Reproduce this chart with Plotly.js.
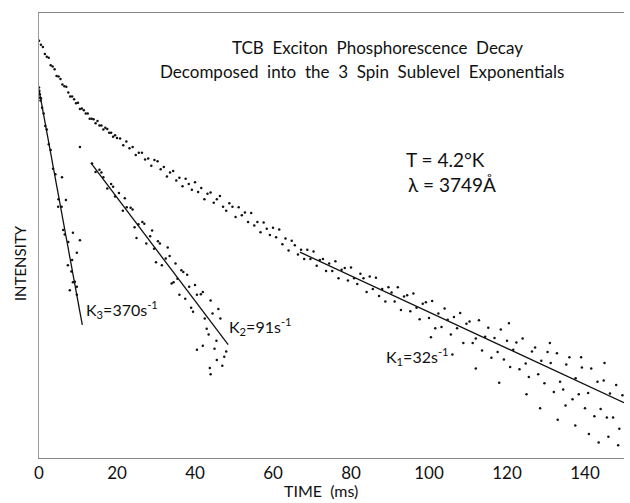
<!DOCTYPE html>
<html><head><meta charset="utf-8">
<script src="https://cdn.plot.ly/plotly-3.0.1.min.js"></script>
<style>html,body{margin:0;padding:0;background:#fff}#chart{width:630px;height:503px}</style>
</head><body><div id="chart"></div>
<script>
// Total phosphorescence decay (time in ms, natural log of intensity, arbitrary units)
const mainTime = [
0,0.5,1,1.5,2,2.5,3,3.5,4,4.5,5,5.5,6,6.5,7,7.5,8,8.5,9,9.5,10,10.5,11,11.5,12,12.5,13,13.5,14,14.5,15,15.5,16,16.5,17,17.5,18,18.5,19,19.5,20,
20.8,21.6,22.4,23.2,24.0,24.8,25.6,26.4,27.2,28.0,28.8,29.6,30.4,31.2,32.0,32.8,33.6,34.4,35.2,36.0,36.8,37.6,38.4,39.2,40.0,40.8,41.6,42.4,43.2,44.0,44.8,45.6,46.4,47.2,48.0,48.8,49.6,50.4,51.2,52.0,52.8,53.6,54.4,55.2,56.0,56.8,57.6,58.4,59.2,60.0,60.8,61.6,62.4,63.2,64.0,64.8,65.6,66.4,
67.2,68.0,68.8,69.6,70.4,71.2,72.0,72.8,73.6,74.4,75.2,76.0,76.8,77.6,78.4,79.2,80.0,80.8,81.6,82.4,83.2,84.0,84.8,85.6,86.4,87.2,88.0,88.8,89.6,90.4,91.2,92.0,92.8,93.6,94.4,95.2,96.0,96.8,97.6,98.4,99.2,100.0,100.8,101.6,102.4,103.2,104.0,104.8,105.6,106.4,107.2,108.0,108.8,109.6,110.4,111.2,112.0,112.8,113.6,114.4,115.2,116.0,116.8,117.6,118.4,119.2,120.0,120.8,121.6,122.4,123.2,124.0,124.8,125.6,126.4,127.2,128.0,128.8,129.6,130.4,131.2,132.0,132.8,133.6,134.4,135.2,136.0,136.8,137.6,138.4,139.2,140.0,140.8,141.6,142.4,143.2,144.0,144.8,145.6,146.4,147.2,148.0,148.8,149.6,
100.5,106,112,118,125,128.5,133,135,137.5,141,143.5,146,148.5,120.5,131,139,145
];
const mainLnI = [
7.52,7.45,7.41,7.29,7.24,7.22,7.09,7.07,7.02,6.90,6.89,6.85,6.75,6.72,6.71,6.61,6.54,6.54,6.49,6.42,6.43,6.32,6.33,6.30,6.24,6.24,6.15,6.15,6.14,6.07,6.11,6.03,6.03,5.96,5.99,5.97,5.90,5.90,5.83,5.86,5.81,
5.80,5.68,5.75,5.63,5.65,5.51,5.55,5.55,5.43,5.45,5.32,5.42,5.40,5.26,5.30,5.13,5.20,5.23,5.06,5.11,4.96,5.09,5.00,4.90,5.03,4.86,4.93,4.73,4.83,4.85,4.67,4.73,4.79,4.60,4.53,4.66,4.60,4.42,4.59,4.45,4.50,4.33,4.49,4.27,4.33,4.15,4.32,4.21,4.10,4.23,4.06,4.20,3.94,4.04,3.83,4.00,3.92,3.76,
3.84,3.68,3.84,3.68,3.81,3.56,3.66,3.68,3.47,3.60,3.47,3.64,3.34,3.49,3.52,3.30,3.53,3.34,3.24,3.42,3.34,3.10,3.37,3.15,3.35,3.03,3.15,2.93,3.18,3.09,2.93,3.18,2.78,3.02,3.04,2.76,3.07,2.82,2.62,2.89,2.92,2.64,2.94,2.46,2.72,2.48,2.81,2.61,2.35,2.66,2.46,2.73,2.20,2.54,2.58,2.20,2.28,2.60,2.07,2.31,2.47,1.94,2.29,2.04,2.44,1.91,2.24,1.78,2.08,2.21,1.74,2.28,1.84,1.60,2.05,2.12,1.65,1.89,1.49,2.04,1.85,1.34,2.02,1.52,1.38,1.82,1.95,1.21,1.58,1.30,1.77,1.05,1.32,1.75,0.91,1.52,1.04,1.54,0.89,1.31,0.89,1.46,0.69,1.28,
2.30,2.00,1.75,1.50,1.30,1.05,0.85,1.10,0.75,0.60,0.45,0.55,0.40,2.55,2.20,1.95,1.85
];

// Residual points of the fastest sublevel (K3)
const k3PtsTime = [0.0,0.1,0.2,0.3,0.4,0.5,0.8,1.2,1.6,2.0,2.5,3.0,3.6,4.2,5.0,5.8,6.6,7.5,8.3,9.2,8.7,9.7,10.5,9.7,7.9,10.5,6.2,4.9,8.5,5.9,6.9,7.4,9.7,8.7];
const k3PtsLnI = [6.70,6.64,6.58,6.52,6.47,6.51,6.34,6.24,6.02,5.96,5.70,5.60,5.27,5.17,4.73,4.60,4.11,3.98,3.46,3.28,4.14,3.79,4.01,3.19,3.13,5.65,4.19,4.60,3.66,5.12,4.72,3.57,3.05,3.27];

// Residual points of the middle sublevel (K2)
const k2PtsTime = [13.6,14.5,15.5,16.5,17.5,18.5,19.5,20.5,21.5,22.5,23.5,24.5,25.5,26.5,27.5,28.5,29.5,30.5,31.5,32.5,33.5,34.5,35.5,36.5,37.5,38.5,39.5,40.5,41.5,42.5,43.5,44.5,45.5,46.5,47.5,
16,19,22,24,27,29,31,33,35,37,38,40,42,44,46,
25,30,34,39,43,45,47,44,42,48,36,40.5,43.8,45.6];
const k2PtsLnI = [5.36,5.21,5.25,5.12,4.92,5.00,4.78,4.84,4.53,4.59,4.58,4.24,4.29,4.33,3.95,4.08,3.86,3.99,3.57,3.69,3.73,3.27,3.33,3.48,2.98,3.19,2.75,3.05,3.06,2.63,2.35,2.72,2.24,2.63,1.96,
5.20,4.95,4.75,4.55,4.30,4.18,3.95,3.88,3.60,3.45,3.40,3.22,3.10,2.95,2.80,
4.05,3.62,3.25,2.82,2.45,2.10,1.80,1.65,2.15,2.05,3.05,2.08,1.76,1.90];

// Fitted single exponentials (straight lines on the log scale)
const k1FitTime = [66.9, 150];
const k1FitLnI = [3.80, 1.15];
const k2FitTime = [13.3, 48.5];
const k2FitLnI = [5.37, 2.17];
const k3FitTime = [0.0, 11.1];
const k3FitLnI = [6.66, 2.52];

const xTicks = [0, 20, 40, 60, 80, 100, 120, 140];
const xTickText = ['0', '20', '40', '60', '80', '100', '120', '140'];

const FONT = 'Lato, "Open Sans", "DejaVu Sans", sans-serif';
const dot = {color: '#111', size: 2.5};
const fitLine = {color: '#111', width: 1.3};

const traces = [
  {x: mainTime, y: mainLnI, type: 'scatter', mode: 'markers', marker: dot, hoverinfo: 'skip'},
  {x: k3PtsTime, y: k3PtsLnI, type: 'scatter', mode: 'markers', marker: dot, hoverinfo: 'skip'},
  {x: k2PtsTime, y: k2PtsLnI, type: 'scatter', mode: 'markers', marker: dot, hoverinfo: 'skip'},
  {x: k1FitTime, y: k1FitLnI, type: 'scatter', mode: 'lines', line: fitLine},
  {x: k2FitTime, y: k2FitLnI, type: 'scatter', mode: 'lines', line: fitLine},
  {x: k3FitTime, y: k3FitLnI, type: 'scatter', mode: 'lines', line: fitLine}
];

const ann = (text, x, y, xanchor, size, angle, yanchor) => ({
  text, x, y, xref: 'paper', yref: 'paper', xanchor, yanchor: yanchor || 'middle',
  textangle: angle || 0, borderpad: 0,
  showarrow: false, font: {family: FONT, size: size || 16, color: '#111'}
});

const layout = {
  width: 630, height: 503,
  margin: {l: 39, r: 6, t: 13, b: 45},
  paper_bgcolor: '#fff', plot_bgcolor: '#fff',
  showlegend: false,
  font: {family: FONT, color: '#111'},
  xaxis: {
    range: [0, 150], showgrid: false, zeroline: false,
    showline: true, linecolor: '#888', linewidth: 1, mirror: true,
    ticks: '', tickvals: xTicks, ticktext: xTickText,
    tickfont: {family: FONT, size: 17, color: '#111'}
  },
  yaxis: {
    range: [0.176, 8.01], showgrid: false, zeroline: false,
    showline: true, linecolor: '#999', linewidth: 1,
    ticks: '', showticklabels: false
  },
  annotations: [
    ann('TCB  Exciton  Phosphorescence  Decay', 0.578, 0.9225, 'center', 17),
    ann('Decomposed  into  the  3  Spin  Sublevel  Exponentials', 0.552, 0.8685, 'center', 17),
    ann('T = 4.2°K', 0.6256, 0.6697, 'left', 19),
    ann('λ = 3749Å', 0.629, 0.6135, 'left', 19),
    ann('K<sub>3</sub>=370s<sup>-1</sup>', 0.0786, 0.3348, 'left', 16),
    ann('K<sub>2</sub>=91s<sup>-1</sup>', 0.323, 0.2944, 'left', 16),
    ann('K<sub>1</sub>=32s<sup>-1</sup>', 0.5915, 0.227, 'left', 16),
    ann('TIME  (ms)', (321 - 39) / 585, -0.0975, 'center', 16, 0, 'bottom'),
    ann('INTENSITY', -0.0325, 0.438, 'center', 15, -90)
  ]
};

Plotly.newPlot('chart', traces, layout, {displayModeBar: false, staticPlot: true});
</script>
</body></html>
